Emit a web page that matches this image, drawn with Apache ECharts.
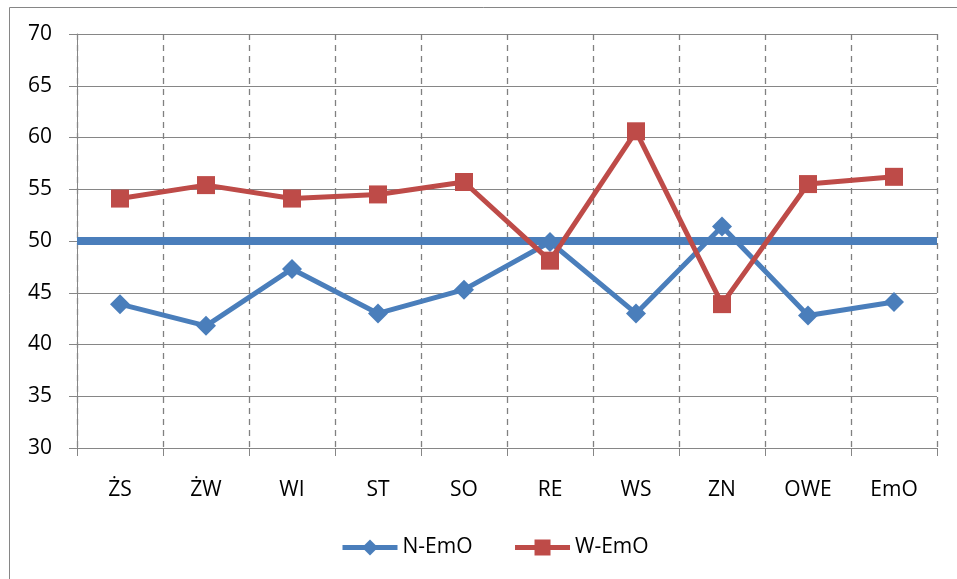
<!DOCTYPE html>
<html><head><meta charset="utf-8">
<script src="https://cdn.jsdelivr.net/npm/echarts@6/dist/echarts.min.js"></script>
<style>html,body{margin:0;padding:0;background:#fff}#c{width:957px;height:579px}</style>
</head><body><div id="c"></div>
<script>
const categories = ['ŻS','ŻW','WI','ST','SO','RE','WS','ZN','OWE','EmO'];
const nEmO = [43.9, 41.8, 47.3, 43.0, 45.3, 49.9, 43.0, 51.4, 42.8, 44.1];
const wEmO = [54.1, 55.4, 54.1, 54.5, 55.7, 48.1, 60.6, 43.9, 55.5, 56.2];
const refValue = 50;
const yTicks = {min: 30, max: 70, interval: 5};

const font = 'Open Sans, Noto Sans, sans-serif';
const chart = echarts.init(document.getElementById('c'), null, {renderer: 'canvas'});
chart.setOption({
  animation: false,
  backgroundColor: '#fff',
  graphic: [{type: 'rect', shape: {x: 9.5, y: 7.5, width: 1000, height: 1000}, style: {fill: 'none', stroke: '#868686', lineWidth: 1}, z: -10}],
  grid: {left: 77, right: 20, top: 34, bottom: 131},
  legend: {
    data: ['N-EmO', 'W-EmO'],
    left: 335, top: 532, itemWidth: 55, itemHeight: 20, itemGap: 40,
    lineStyle: {width: 5},
    textStyle: {fontFamily: font, fontSize: 21, color: '#000'}
  },
  xAxis: {
    type: 'category', data: categories, boundaryGap: true,
    axisLine: {show: true, lineStyle: {color: '#868686', width: 1}},
    axisTick: {show: true, length: 8, lineStyle: {color: '#868686'}},
    axisLabel: {fontFamily: font, fontSize: 21, color: '#000', margin: 32},
    splitLine: {show: true, lineStyle: {color: '#808080', type: [6, 5], width: 1.3}}
  },
  yAxis: {
    type: 'value', min: yTicks.min, max: yTicks.max, interval: yTicks.interval,
    axisLine: {show: true, lineStyle: {color: '#868686', width: 1}},
    axisTick: {show: true, length: 8, lineStyle: {color: '#868686'}},
    axisLabel: {fontFamily: font, fontSize: 21, color: '#000', margin: 25},
    splitLine: {show: true, lineStyle: {color: '#868686', width: 1}}
  },
  series: [
    {
      name: 'N-EmO', type: 'line', data: nEmO,
      symbol: 'diamond', symbolSize: 20,
      lineStyle: {color: '#4a7ebb', width: 5},
      itemStyle: {color: '#4a7ebb'},
      markLine: {
        silent: true, symbol: 'none', label: {show: false},
        lineStyle: {color: '#4a7ebb', width: 8, type: 'solid'},
        data: [{yAxis: refValue}], z: 3
      }
    },
    {
      name: 'W-EmO', type: 'line', data: wEmO,
      symbol: 'rect', symbolSize: 18,
      lineStyle: {color: '#be4b48', width: 5},
      itemStyle: {color: '#be4b48'}
    }
  ]
});
</script></body></html>
